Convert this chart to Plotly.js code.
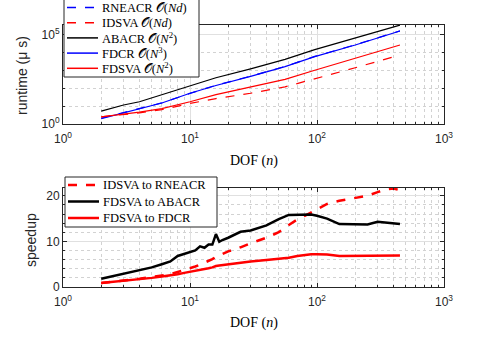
<!DOCTYPE html>
<html>
<head>
<meta charset="utf-8">
<script src="https://cdn.plot.ly/plotly-3.0.1.min.js"></script>
<style>
  html, body { margin: 0; padding: 0; background: #ffffff; }
  #container { width: 491px; height: 343px; }
</style>
</head>
<body>
<div id="container"></div>
<script>
// degrees of freedom used for the runtime curves
var nTop = [2, 3, 4, 6, 10, 16, 30, 56, 96, 200, 450];

// runtimes in micro seconds
var rneacr = [2.1, 4.4, 7.2, 15.1, 51, 145, 468, 1620, 5890, 26300, 158000];
var idsva = [2.5, 3.3, 4.2, 6.3, 14.1, 26.3, 52, 118, 330, 1380, 7080];
var abacr = [5.2, 11.5, 17.4, 42.7, 132, 380, 1200, 4070, 14100, 60300, 331000];
var fdcr = [2.0, 4.3, 7.1, 14.8, 52, 141, 457, 1580, 5750, 25700, 155000];
var fdsva = [2.5, 3.5, 4.6, 7.2, 17.4, 43.6, 120, 309, 1000, 4570, 25700];

// degrees of freedom used for the speedup curves
var nBot = [2, 3, 4, 5, 6, 7, 8, 9, 10, 11, 12, 13, 14, 15, 16, 17, 18, 20, 25, 30,
  40, 50, 60, 70, 80, 90, 100, 120, 150, 200, 250, 300, 350, 400, 450];

// speedups
var spIdsvaRnea = [0.9, 1.4, 1.8, 2.2, 2.5, 2.8, 3.3, 3.7, 4.2, 4.5, 4.9, 5.3, 5.7, 6.1, 6.6, 6.9, 7.2, 7.8, 8.7, 9.6,
  10.8, 12.0, 13.6, 14.8, 15.6, 16.4, 17.0, 18.2, 18.9, 19.6, 20.0, 20.8, 21.4, 21.6, 21.2];
var spFdsvaAba = [1.8, 2.9, 3.6, 4.3, 5.0, 5.6, 6.8, 7.2, 7.7, 8.0, 8.9, 8.6, 9.3, 9.3, 11.6, 9.9, 10.3, 10.8, 12.1, 12.4,
  13.5, 14.9, 15.8, 15.8, 15.9, 15.9, 15.6, 15.0, 13.8, 13.8, 13.7, 14.3, 14.1, 13.9, 13.8];
var spFdsvaFdcr = [0.87, 1.3, 1.7, 2.0, 2.3, 2.5, 2.8, 3.1, 3.3, 3.5, 3.7, 3.9, 4.1, 4.3, 4.6, 4.7, 4.8, 5.0, 5.3, 5.6,
  5.9, 6.2, 6.4, 6.8, 7.1, 7.2, 7.2, 7.1, 6.8, 6.8, 6.9, 6.9, 6.9, 6.9, 6.9];

// tick labels
var xTickVals = [1, 10, 100, 1000];
var xTickText = ["10<sup>0</sup>", "10<sup>1</sup>", "10<sup>2</sup>", "10<sup>3</sup>"];
var yTopTickVals = [1, 100000];
var yTopTickText = ["10<sup>0</sup>", "10<sup>5</sup>"];
var yBotTickVals = [0, 10, 20];

// minor grid positions (every integer inside each decade)
var xMinor = [];
for (var d = 1; d <= 100; d *= 10) {
  for (var k = 2; k <= 9; k++) {
    xMinor.push(k * d);
  }
}

var axisColor = "#262626";
var sansFamily = "Liberation Sans, Arial, sans-serif";
var serifFamily = "Liberation Serif, DejaVu Serif, serif";
var sansFont = {family: sansFamily, size: 12, color: axisColor};

// the series of both panels, used for the traces and the hand-drawn legends
var topSeries = [
  {y: rneacr, name: "RNEACR 𝒪(<i>Nd</i>)", color: "#0000ff", dash: "dash"},
  {y: idsva, name: "IDSVA 𝒪(<i>Nd</i>)", color: "#ff0000", dash: "dash"},
  {y: abacr, name: "ABACR 𝒪(<i>N</i><sup>2</sup>)", color: "#000000", dash: "solid"},
  {y: fdcr, name: "FDCR 𝒪(<i>N</i><sup>3</sup>)", color: "#0000ff", dash: "solid"},
  {y: fdsva, name: "FDSVA 𝒪(<i>N</i><sup>2</sup>)", color: "#ff0000", dash: "solid"}
];
var botSeries = [
  {y: spIdsvaRnea, name: "IDSVA to RNEACR", color: "#ff0000", dash: "dash"},
  {y: spFdsvaAba, name: "FDSVA to ABACR", color: "#000000", dash: "solid"},
  {y: spFdsvaFdcr, name: "FDSVA to FDCR", color: "#ff0000", dash: "solid"}
];

var data = [];
topSeries.forEach(function(s) {
  data.push({x: nTop, y: s.y, name: s.name, type: "scatter", mode: "lines",
    line: {color: s.color, dash: s.dash, width: 1.2}, xaxis: "x", yaxis: "y", showlegend: false});
});
botSeries.forEach(function(s) {
  data.push({x: nBot, y: s.y, name: s.name, type: "scatter", mode: "lines",
    line: {color: s.color, dash: s.dash, width: 2.5}, xaxis: "x2", yaxis: "y2", showlegend: false});
});

// plot area in pixels, used to place legends and titles in paper units
var ml = 63, mr = 47, mt = 25, mb = 56;
var pw = 491 - ml - mr, ph = 343 - mt - mb;
function px(x) { return (x - ml) / pw; }
function py(y) { return (343 - mb - y) / ph; }

var shapes = [];
var annotations = [];

// draws a matlab style legend box: box corners, first row y, row step, line width, font size
function addLegend(series, x0, y0, x1, y1, rowY, rowStep, lw, fontSize) {
  shapes.push({type: "rect", xref: "paper", yref: "paper", x0: px(x0), x1: px(x1), y0: py(y1), y1: py(y0),
    line: {color: axisColor, width: 1}, fillcolor: "#ffffff", layer: "above"});
  series.forEach(function(s, i) {
    var y = rowY + i * rowStep;
    shapes.push({type: "line", xref: "paper", yref: "paper", x0: px(x0 + 3), x1: px(x0 + 34), y0: py(y), y1: py(y),
      line: {color: s.color, dash: s.dash, width: lw}, layer: "above"});
    annotations.push({xref: "paper", yref: "paper", x: px(x0 + 36), y: py(y), xanchor: "left", yanchor: "middle",
      text: s.name, showarrow: false, font: {family: serifFamily, size: fontSize, color: "#000000"}});
  });
}
addLegend(topSeries, 64, -2, 199, 77, 7.5, 15.2, 1.5, 12.5);
addLegend(botSeries, 65, 177, 217, 227, 185, 16.5, 2.5, 12.5);

// axis titles, placed by hand like the matlab figure
function title(text, x, y, angle, family) {
  annotations.push({xref: "paper", yref: "paper", x: px(x), y: py(y), xanchor: "center", yanchor: "middle",
    textangle: angle, showarrow: false, text: text, font: {family: family, size: 14, color: angle ? axisColor : "#000000"}});
}
title("runtime (μ s)", 22, 76, -90, sansFamily);
title("speedup", 31, 240, -90, sansFamily);
title("DOF (<i>n</i>)", 253.5, 161, 0, serifFamily);
title("DOF (<i>n</i>)", 253.5, 323, 0, serifFamily);

// shared look of an x axis
function xAxis(anchor) {
  return {
    type: "log", range: [0, 3], anchor: anchor, domain: [0, 1],
    tickmode: "array", tickvals: xTickVals, ticktext: xTickText,
    tickfont: sansFont, ticks: "inside", ticklen: 4, tickcolor: axisColor, ticklabelstandoff: 4,
    showline: true, linecolor: axisColor, linewidth: 1, mirror: "ticks",
    showgrid: true, gridcolor: "#e0e0e0", zeroline: false,
    minor: {tickmode: "array", tickvals: xMinor, ticks: "inside", ticklen: 2, tickcolor: axisColor,
      showgrid: true, gridcolor: "#d2d2d2", griddash: "dot"}
  };
}

var layout = {
  width: 491, height: 343,
  margin: {l: ml, r: mr, t: mt, b: mb},
  paper_bgcolor: "#ffffff", plot_bgcolor: "#ffffff",
  font: sansFont,
  showlegend: false,
  xaxis: xAxis("y"),
  xaxis2: xAxis("y2"),
  yaxis: {
    type: "log", range: [0, 5.525], domain: [py(124), 1], anchor: "x",
    tickmode: "array", tickvals: yTopTickVals, ticktext: yTopTickText,
    tickfont: sansFont, ticks: "inside", ticklen: 4, tickcolor: axisColor,
    showline: true, linecolor: axisColor, linewidth: 1, mirror: "ticks",
    showgrid: true, gridcolor: "#e0e0e0", zeroline: false,
    minor: {tickmode: "array", tickvals: [10, 100, 1000, 10000], ticks: "inside", ticklen: 2, tickcolor: axisColor,
      showgrid: true, gridcolor: "#d2d2d2", griddash: "dot"}
  },
  yaxis2: {
    range: [0, 21.7], domain: [0, py(188)], anchor: "x2",
    tickmode: "array", tickvals: yBotTickVals,
    tickfont: sansFont, ticks: "inside", ticklen: 4, tickcolor: axisColor,
    showline: true, linecolor: axisColor, linewidth: 1, mirror: "ticks",
    showgrid: true, gridcolor: "#e0e0e0", zeroline: false,
    minor: {tickmode: "array", tickvals: [2, 4, 6, 8, 12, 14, 16, 18], ticks: "inside", ticklen: 2, tickcolor: axisColor,
      showgrid: true, gridcolor: "#d2d2d2", griddash: "dot"}
  },
  shapes: shapes,
  annotations: annotations
};

Plotly.newPlot("container", data, layout, {staticPlot: true, displayModeBar: false});
</script>
</body>
</html>
